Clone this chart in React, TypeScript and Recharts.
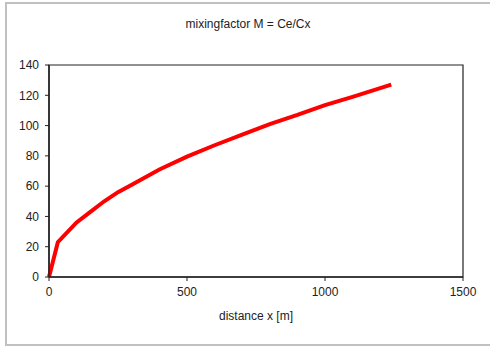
import React from 'react';
import { LineChart, Line, XAxis, YAxis, ReferenceArea } from 'recharts';

// distance x [m]
const distance = [0, 32, 100, 150, 200, 250, 300, 400, 500, 600, 700, 800, 900, 1000, 1100, 1240];
// mixing factor M
const mixing = [0, 23, 36, 43, 50, 56, 61, 71, 79.5, 87, 94, 101, 107, 113.5, 119, 127];

const xTicks = [0, 500, 1000, 1500];
const yTicks = [0, 20, 40, 60, 80, 100, 120, 140];

const data = distance.map((x, i) => ({ x, m: mixing[i] }));

const font = 'Liberation Sans, Arial, sans-serif';

export default function App() {
  return (
    <div
      style={{
        position: 'absolute',
        left: 0,
        top: 0,
        width: 490,
        height: 347,
        overflow: 'hidden',
        background: '#fff',
        fontFamily: font,
      }}
    >
      <div
        style={{
          position: 'absolute',
          left: 5,
          top: 2,
          width: 500,
          height: 340,
          border: '2px solid #c0c0c0',
        }}
      />
      <div
        style={{
          position: 'absolute',
          left: 0,
          width: 496,
          top: 17,
          textAlign: 'center',
          fontSize: 12,
          color: '#222',
        }}
      >
        mixingfactor M = Ce/Cx
      </div>
      <div
        style={{
          position: 'absolute',
          left: 0,
          width: 512,
          top: 309,
          textAlign: 'center',
          fontSize: 12,
          color: '#222',
        }}
      >
        distance x [m]
      </div>
      <div style={{ position: 'absolute', left: 0, top: 0 }}>
        <LineChart
          width={490}
          height={347}
          data={data}
          margin={{ top: 65, right: 27, left: 0, bottom: 0 }}
        >
          <XAxis
            dataKey="x"
            type="number"
            domain={[0, 1500]}
            ticks={xTicks}
            height={70}
            tickSize={4}
            tickMargin={6}
            axisLine={{ stroke: '#222', strokeWidth: 1.5 }}
            tickLine={{ stroke: '#222' }}
            tick={{ fill: '#222', fontSize: 12, fontFamily: font }}
          />
          <YAxis
            type="number"
            domain={[0, 140]}
            ticks={yTicks}
            width={49}
            tickSize={4}
            tickMargin={6}
            axisLine={{ stroke: '#222', strokeWidth: 1.5 }}
            tickLine={{ stroke: '#222' }}
            tick={{ fill: '#222', fontSize: 12, fontFamily: font }}
          />
          <ReferenceArea x1={0} x2={1500} y1={0} y2={140} fill="none" stroke="#222" strokeWidth={1.2} />
          <Line
            dataKey="m"
            type="linear"
            stroke="#ff0000"
            strokeWidth={4}
            dot={false}
            isAnimationActive={false}
          />
        </LineChart>
      </div>
    </div>
  );
}
